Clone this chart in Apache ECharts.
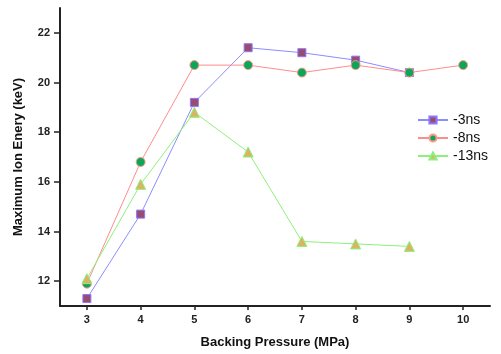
<!DOCTYPE html>
<html>
<head>
<meta charset="utf-8">
<title>Maximum Ion Energy</title>
<script src="https://cdn.jsdelivr.net/npm/echarts@6/dist/echarts.min.js"></script>
<style>
  html, body { margin: 0; padding: 0; background: #fff; }
  #chart { width: 501px; height: 354px; }
</style>
</head>
<body>
<div id="chart"></div>
<script>
// backing pressure (MPa)
var pressure = [3, 4, 5, 6, 7, 8, 9, 10];
// max ion energy (keV) per delay
var ns3 = [11.3, 14.7, 19.2, 21.4, 21.2, 20.9, 20.4];
var ns8 = [11.9, 16.8, 20.7, 20.7, 20.4, 20.7, 20.4, 20.7];
var ns13 = [12.1, 15.9, 18.8, 17.2, 13.6, 13.5, 13.4];
var seriesNames = ['-3ns', '-8ns', '-13ns'];
var xTicks = [3, 4, 5, 6, 7, 8, 9, 10];
var yTicks = [12, 14, 16, 18, 20, 22];

function pairs(vals) {
  return vals.map(function (v, i) { return [pressure[i], v]; });
}

var chart = echarts.init(document.getElementById('chart'));
var labelFont = { fontFamily: 'Liberation Sans', fontWeight: 'bold', fontSize: 11, color: '#222' };
var nameFont = { fontFamily: 'Liberation Sans', fontWeight: 'bold', fontSize: 13, color: '#111' };

var option = {
  animation: false,
  grid: { left: 60, top: 8, right: 11, bottom: 47 },
  legend: {
    data: seriesNames,
    orient: 'vertical',
    left: 412,
    top: 108,
    itemWidth: 30,
    itemHeight: 9,
    itemGap: 4,
    textStyle: { fontFamily: 'Liberation Sans', fontSize: 14, color: '#111' }
  },
  xAxis: {
    type: 'value',
    min: 2.5, max: 10.5,
    name: 'Backing Pressure (MPa)',
    nameLocation: 'middle',
    nameGap: 30,
    nameTextStyle: nameFont,
    axisLine: { lineStyle: { color: '#222', width: 2 } },
    axisTick: { length: 4, customValues: xTicks, lineStyle: { color: '#222', width: 1.5 } },
    axisLabel: Object.assign({ margin: 8, customValues: xTicks }, labelFont),
    splitLine: { show: false }
  },
  yAxis: {
    type: 'value',
    min: 11, max: 23,
    name: 'Maximum Ion Enery (keV)',
    nameLocation: 'middle',
    nameGap: 35,
    nameTextStyle: nameFont,
    axisLine: { show: true, lineStyle: { color: '#222', width: 2 } },
    axisTick: { show: true, length: 6, customValues: yTicks, lineStyle: { color: '#222', width: 1.5 } },
    axisLabel: Object.assign({ margin: 10, customValues: yTicks }, labelFont),
    splitLine: { show: false }
  },
  series: [
    {
      name: seriesNames[0], type: 'line', data: pairs(ns3),
      symbol: 'rect', symbolSize: 8,
      lineStyle: { color: '#8c8cff', width: 1 },
      itemStyle: { color: '#9a4b70', borderColor: '#8a78ff', borderWidth: 1 }
    },
    {
      name: seriesNames[1], type: 'line', data: pairs(ns8),
      symbol: 'circle', symbolSize: 9,
      lineStyle: { color: '#ff8c8c', width: 1 },
      itemStyle: { color: '#0da55a', borderColor: '#ff9a8c', borderWidth: 1 }
    },
    {
      name: seriesNames[2], type: 'line', data: pairs(ns13),
      symbol: 'triangle', symbolSize: 10,
      lineStyle: { color: '#8ef07a', width: 1 },
      itemStyle: { color: '#d9b466', borderColor: '#8ef07a', borderWidth: 1 }
    }
  ]
};

chart.setOption(option);
</script>
</body>
</html>
